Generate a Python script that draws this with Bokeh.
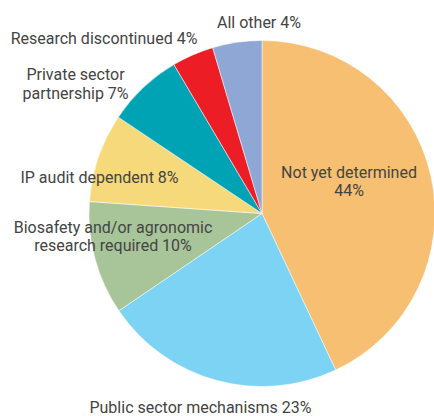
import math
from bokeh.plotting import figure
from bokeh.models import Range1d, ColumnDataSource
from bokeh.core.properties import value
from bokeh.embed import file_html
from bokeh.resources import INLINE

# ---- data ----
categories = ["Not yet determined", "Public sector mechanisms",
              "Biosafety and/or agronomic research required",
              "IP audit dependent", "Private sector partnership",
              "Research discontinued", "All other"]
shares = [43.0, 22.5, 10.6, 8.3, 7.1, 3.9, 4.6]          # drawn slice sizes (%)
label_texts = ["Not yet determined\n44%",
               "Public sector mechanisms 23%",
               "Biosafety and/or agronomic\nresearch required 10%",
               "IP audit dependent 8%",
               "Private sector\npartnership 7%",
               "Research discontinued 4%",
               "All other 4%"]
colors = ["#F7BF72", "#7DD3F4", "#A8C59A", "#F6D97B", "#00A3B4", "#EC1D25", "#8FA7D4"]

# ---- layout (page pixels) ----
W, H = 434, 416
CX, CY, R = 261.5, 213.0, 173.0
# (center x, first-line baseline y) of every label, in page pixels
label_pos = [(348.5, 176.5), (200.0, 411.5), (112.5, 231.5), (99.0, 181.5),
             (75.0, 79.0), (103.5, 43.3), (258.5, 26.5)]
LINE_H = 18.5
BASE_SHIFT = -5.0   # compensates renderer baseline offset

def fx(px):
    return px

def fy(py):
    return H - py

p = figure(width=W, height=H, output_backend="svg", toolbar_location=None,
           x_range=Range1d(0, W), y_range=Range1d(0, H), min_border=0,
           background_fill_color="white", border_fill_color="white")
p.axis.visible = False
p.grid.visible = False
p.outline_line_color = None

total = sum(shares)
starts, ends = [], []
cum = 0.0
for s in shares:
    a0 = math.pi / 2 - 2 * math.pi * cum / total
    cum += s
    a1 = math.pi / 2 - 2 * math.pi * cum / total
    starts.append(a1)
    ends.append(a0)

src = ColumnDataSource(dict(cat=categories, share=shares, start=starts, end=ends,
                            color=colors, x=[fx(CX)] * len(shares), y=[fy(CY)] * len(shares)))
p.wedge(x="x", y="y", radius=R, start_angle="start", end_angle="end",
        direction="anticlock", fill_color="color", line_color="white",
        line_width=0.5, source=src)

tx, ty, tt = [], [], []
for text, (lx, ly) in zip(label_texts, label_pos):
    for i, line in enumerate(text.split("\n")):
        tx.append(fx(lx))
        ty.append(fy(ly + i * LINE_H + BASE_SHIFT))
        tt.append(line)

p.text(x=tx, y=ty, text=tt, text_align="center", text_baseline="alphabetic",
       text_font=value("Roboto"), text_font_size="16px", text_color="#444444")

open("out.html", "w").write(file_html(p, INLINE))
